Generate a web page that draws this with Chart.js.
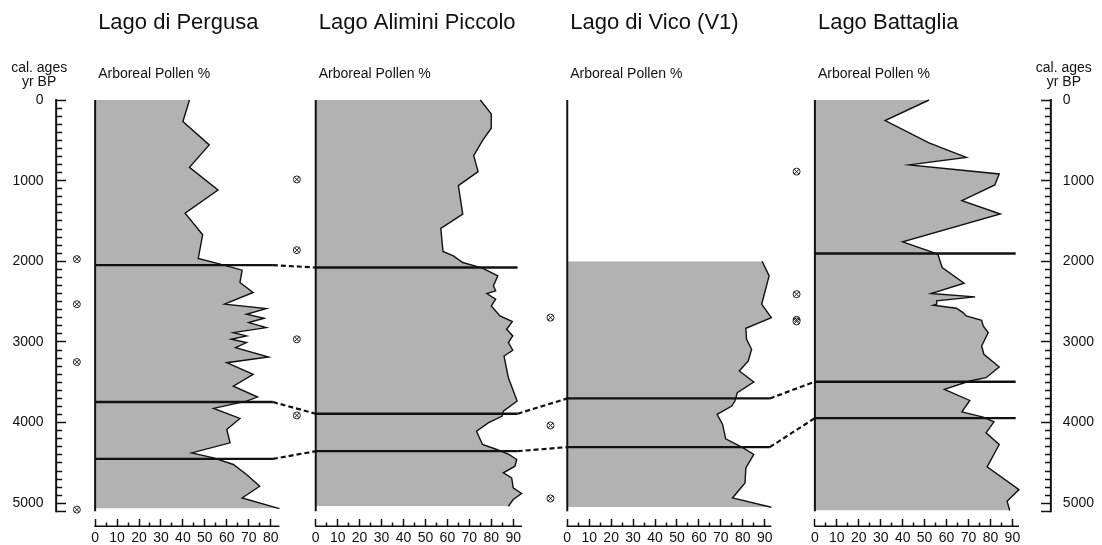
<!DOCTYPE html>
<html lang="it">
<head>
<meta charset="UTF-8" />
<title>Arboreal Pollen</title>
<script src="https://cdn.jsdelivr.net/npm/chart.js"></script>
<style>
    html, body { margin: 0; padding: 0; background: #fff; }
    #wrap { width: 1102px; height: 545px; }
</style>
</head>
<body>
<div id="wrap"><canvas id="pollenChart" width="1102" height="545"></canvas></div>
<script>
// panel titles
const lakes = ['Lago di Pergusa', 'Lago Alimini Piccolo', 'Lago di Vico (V1)', 'Lago Battaglia'];

// arboreal pollen curves: age (cal. yr BP) and AP %
const pergusaAge = [0, 267, 557, 835, 1116, 1402, 1671, 1965, 2035, 2110, 2263, 2387, 2532, 2586, 2656, 2706, 2760, 2822, 2884, 2925, 2967, 3008, 3070, 3186, 3257, 3401, 3547, 3683, 3733, 3823, 3948, 4085, 4251, 4375, 4437, 4519, 4643, 4789, 4934, 5066];
const pergusaAP = [43, 40, 52, 43, 56, 41, 49, 47, 57, 67, 66, 72, 59, 78, 69, 77, 70, 78, 63, 69, 62, 69, 64, 79, 60, 72, 63, 74, 69, 54, 66, 60, 61.5, 44, 54, 63, 69, 75, 67, 84];

const aliminiAge = [0, 172, 350, 503, 689, 888, 1062, 1414, 1592, 1878, 1932, 2015, 2084, 2180, 2304, 2366, 2400, 2470, 2553, 2677, 2748, 2843, 2925, 3008, 3103, 3174, 3443, 3733, 3857, 3919, 4003, 4106, 4271, 4333, 4395, 4457, 4540, 4623, 4686, 4810, 4879, 4954, 5037];
const aliminiAP = [75, 80, 80, 76, 72, 74, 65, 67, 57, 58, 62.7, 67, 76, 83, 81, 82, 78, 82, 80, 84, 89.6, 87, 89.8, 87.8, 89.8, 85.8, 87.8, 91.8, 85.5, 85, 78.6, 73.3, 76, 82.5, 88, 91.6, 90.8, 85.5, 89.3, 90, 93.8, 90, 87.8];

const vicoAge = [2000, 2180, 2532, 2698, 2830, 2967, 3091, 3236, 3360, 3497, 3630, 3733, 3795, 3898, 4022, 4201, 4313, 4395, 4561, 4748, 4934, 5050];
const vicoAP = [88.8, 92, 88.6, 93, 81.4, 81.7, 84, 82.5, 78.4, 85, 77.5, 76.4, 75, 68.3, 70.8, 72.2, 80.2, 85, 81.4, 81, 75.3, 93];

const battagliaAge = [0, 255, 532, 711, 805, 917, 1053, 1248, 1414, 1758, 1910, 2077, 2271, 2400, 2441, 2491, 2532, 2544, 2582, 2636, 2677, 2731, 2801, 2884, 3050, 3153, 3311, 3443, 3484, 3588, 3725, 3866, 3932, 3990, 4127, 4271, 4549, 4830, 4975, 5090];
const battagliaAP = [52, 32, 52, 69, 43, 84, 82, 67, 84.5, 40, 56, 58, 68, 53, 73, 55.5, 55.5, 54, 64.5, 67.5, 69, 76, 76.7, 79, 76, 77, 84, 78, 70.6, 59, 70.6, 67, 76.7, 81.6, 78, 84, 78.5, 93, 87.6, 88.8];

// zone boundaries (cal. yr BP) for each lake
const zones = [[2047, 3745, 4450], [2077, 3890, 4354], [3700, 4304], [1903, 3493, 3944]];
// correlated boundaries: [lake A, zone A, lake B, zone B]
const links = [[0, 0, 1, 0], [0, 1, 1, 1], [0, 2, 1, 2], [1, 1, 2, 0], [1, 2, 2, 1], [2, 0, 3, 1], [2, 1, 3, 2]];
// dated levels, drawn left of each lake
const dates = [[1973, 2532, 3249, 5079], [985, 1861, 2967, 3911], [2698, 4035, 4940], [888, 2408, 2725, 2745]];

// age axis
const AGE_MAX = 5100;
const AGE_STEP = 100;

// layout bits (px and % range of each panel)
const panelMax = [84, 94, 93, 93];
const zoneEnd = [81, 92, 92.3, 91.5];
const PX_PER_PCT = 2.195;
const gapPx = [29, 36.3, 45.3, 43.6, 21.9];
const datePos = [0.37, 0.48, 0.63, 0.58];
const TICK_Y = 10;
const TICK_X = 15;

const FONT = '"Liberation Sans", Arial, Helvetica, sans-serif';
Chart.defaults.font.family = FONT;
Chart.defaults.color = '#111';

const curves = [
    { age: pergusaAge, ap: pergusaAP },
    { age: aliminiAge, ap: aliminiAP },
    { age: vicoAge, ap: vicoAP },
    { age: battagliaAge, ap: battagliaAP }
];

const datasets = [];
curves.forEach((c, i) => {
    datasets.push({
        label: lakes[i],
        xAxisID: 'x' + i,
        yAxisID: 'y',
        data: c.age.map((a, k) => ({ x: c.ap[k], y: a })),
        borderColor: '#111',
        borderWidth: 1.4,
        backgroundColor: '#b2b2b2',
        fill: 'origin',
        pointRadius: 0,
        tension: 0,
        clip: false,
        order: 3
    });
    zones[i].forEach(a => {
        datasets.push({
            xAxisID: 'x' + i,
            yAxisID: 'y',
            data: [{ x: 0, y: a }, { x: zoneEnd[i], y: a }],
            borderColor: '#111',
            borderWidth: 2.4,
            pointRadius: 0,
            fill: false,
            clip: false,
            order: 2
        });
    });
    // dated levels: circle + rotated cross
    ['circle', 'crossRot'].forEach((st, s) => {
        datasets.push({
            xAxisID: 'g' + i,
            yAxisID: 'y',
            data: dates[i].map(a => ({ x: datePos[i], y: a })),
            showLine: false,
            pointStyle: st,
            pointRadius: 3.5,
            pointBorderWidth: 1,
            pointBorderColor: '#222',
            pointBackgroundColor: '#fff',
            clip: false,
            order: 1 - s
        });
    });
});

// axes
const minorDash = (major, len, total) => major ? [] : [len, total - len];

const scales = {
    y: {
        type: 'linear', position: 'left', reverse: true, min: 0, max: AGE_MAX,
        border: { display: false },
        grid: {
            drawOnChartArea: false, tickLength: TICK_Y, tickWidth: 1.5, tickColor: '#111',
            tickBorderDash: c => minorDash(c.tick.value % 1000 === 0 || c.tick.value === AGE_MAX, 6, TICK_Y)
        },
        ticks: {
            stepSize: AGE_STEP, autoSkip: false, padding: 12.5, font: { size: 14 },
            callback: v => v % 1000 === 0 ? String(v) : ''
        }
    },
    y2: {
        type: 'linear', position: 'right', reverse: true, min: 0, max: AGE_MAX,
        border: { display: false },
        grid: {
            drawOnChartArea: false, tickLength: TICK_Y, tickWidth: 1.5, tickColor: '#111',
            tickBorderDash: c => minorDash(c.tick.value % 1000 === 0 || c.tick.value === AGE_MAX, 6, TICK_Y),
            tickBorderDashOffset: 6
        },
        ticks: {
            stepSize: AGE_STEP, autoSkip: false, padding: 12, font: { size: 14 },
            callback: v => v % 1000 === 0 ? String(v) : ''
        }
    }
};

for (let i = 0; i <= lakes.length; i++) {
    scales['g' + i] = {
        type: 'linear', position: 'bottom', stack: 'panels', stackWeight: gapPx[i],
        min: 0, max: 1, display: false
    };
    if (i === lakes.length) break;
    scales['x' + i] = {
        type: 'linear', position: 'bottom', stack: 'panels', stackWeight: panelMax[i] * PX_PER_PCT,
        min: 0, max: panelMax[i],
        border: { display: false },
        grid: {
            drawOnChartArea: false, tickLength: TICK_X, tickWidth: 1.5, tickColor: '#111',
            tickBorderDash: c => c.tick.value % 10 === 0 ? [7, TICK_X - 7] : [3.5, TICK_X - 3.5],
            tickBorderDashOffset: c => c.tick.value % 10 === 0 ? 7 : 3.5
        },
        ticks: {
            stepSize: 5, includeBounds: false, autoSkip: false, maxRotation: 0, padding: 3.6,
            font: { size: 14 },
            callback: v => v % 10 === 0 ? String(v) : ''
        }
    };
}

// axis lines, correlation lines and titles
const framePlugin = {
    id: 'frame',
    afterDatasetsDraw(chart) {
        const ctx = chart.ctx;
        const y = chart.scales.y;
        const yTop = y.getPixelForValue(0);
        const yBot = y.getPixelForValue(AGE_MAX);
        const seg = (x1, y1, x2, y2) => {
            ctx.beginPath();
            ctx.moveTo(x1, y1);
            ctx.lineTo(x2, y2);
            ctx.stroke();
        };
        ctx.save();
        ctx.strokeStyle = '#111';
        ctx.lineWidth = 2;
        seg(y.right - TICK_Y, yTop - 1, y.right - TICK_Y, yBot + 1);
        const y2 = chart.scales.y2;
        seg(y2.left + TICK_Y, yTop - 1, y2.left + TICK_Y, yBot + 1);

        lakes.forEach((name, i) => {
            const xs = chart.scales['x' + i];
            const x0 = xs.getPixelForValue(0);
            seg(x0, yTop, x0, yBot);
            const yb = xs.top + TICK_X;
            ctx.lineWidth = 1.5;
            seg(x0 - 0.75, yb, xs.right, yb);
            ctx.lineWidth = 2;
        });

        ctx.lineWidth = 2.2;
        ctx.setLineDash([5, 3]);
        links.forEach(([a, za, b, zb]) => {
            const xa = chart.scales['x' + a].getPixelForValue(zoneEnd[a]);
            const xb = chart.scales['x' + b].getPixelForValue(0);
            seg(xa, y.getPixelForValue(zones[a][za]), xb, y.getPixelForValue(zones[b][zb]));
        });
        ctx.restore();
    },
    afterDraw(chart) {
        const ctx = chart.ctx;
        ctx.save();
        ctx.fillStyle = '#111';
        ctx.textBaseline = 'middle';
        lakes.forEach((name, i) => {
            const x0 = chart.scales['x' + i].getPixelForValue(0);
            ctx.textAlign = 'left';
            ctx.font = '22px ' + FONT;
            ctx.fillText(name, x0 + 3, 23);
            ctx.font = '14px ' + FONT;
            ctx.fillText('Arboreal Pollen %', x0 + 3, 74);
        });
        ctx.textAlign = 'center';
        ctx.font = '14px ' + FONT;
        const yl = chart.scales.y, yr = chart.scales.y2;
        [yl.right - TICK_Y - 17, yr.left + TICK_Y + 13].forEach(cx => {
            ctx.fillText('cal. ages', cx, 68);
            ctx.fillText('yr BP', cx, 82);
        });
        ctx.restore();
    }
};

new Chart(document.getElementById('pollenChart'), {
    type: 'line',
    data: { datasets },
    options: {
        responsive: false,
        animation: false,
        indexAxis: 'y',
        layout: { padding: { top: 100, left: 0, right: -4, bottom: -1 } },
        plugins: { legend: { display: false }, tooltip: { enabled: false } },
        scales
    },
    plugins: [framePlugin]
});
</script>
</body>
</html>
